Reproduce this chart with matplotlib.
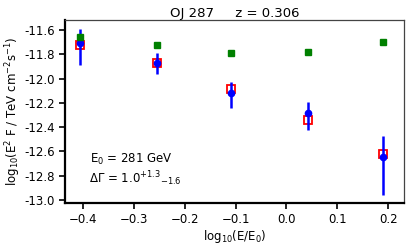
import numpy as np
import matplotlib
matplotlib.use("Agg")
import matplotlib.pyplot as plt
from matplotlib.ticker import FuncFormatter

# data
log_e = [-0.405, -0.255, -0.108, 0.042, 0.189]
flux_obs = [-11.71, -11.87, -12.12, -12.28, -12.65]
err_lo = [0.18, 0.09, 0.12, 0.14, 0.31]
err_hi = [0.12, 0.08, 0.09, 0.09, 0.18]
flux_model = [-11.72, -11.87, -12.09, -12.34, -12.62]
flux_intr = [-11.66, -11.72, -11.79, -11.78, -11.70]

fig = plt.figure(figsize=(4.15, 2.47), dpi=100)
ax = fig.add_axes([65/415, 44/247, 339/415, 183/247])

ax.plot(log_e, flux_model, 's', mfc='none', mec='red', ms=5.5, mew=1.3, zorder=2)
ax.errorbar(log_e, flux_obs, yerr=[err_lo, err_hi], fmt='o', color='blue',
            ms=4.5, elinewidth=1.8, capsize=0, zorder=3)
ax.plot(log_e, flux_intr, 's', color='green', ms=4.5, zorder=4)

ax.set_xlim(-0.435, 0.231)
ax.set_ylim(-13.025, -11.518)
ax.set_xticks([-0.4, -0.3, -0.2, -0.1, 0.0, 0.1, 0.2])
ax.set_yticks([-11.6, -11.8, -12.0, -12.2, -12.4, -12.6, -12.8, -13.0])
ax.yaxis.set_major_formatter(FuncFormatter(lambda v, p: f"{v:.1f}"))
ax.tick_params(labelsize=8.5, length=4, width=1.2, color='black')

for s in ['left', 'bottom']:
    ax.spines[s].set_linewidth(1.6)
    ax.spines[s].set_color('black')
for s in ['top', 'right']:
    ax.spines[s].set_linewidth(0.9)
    ax.spines[s].set_color('#444444')

ax.set_xlabel(r'log$_{10}$(E/E$_0$)', fontsize=8.5, labelpad=1)
ax.set_ylabel(r'log$_{10}$(E$^2$ F / TeV cm$^{-2}$s$^{-1}$)', fontsize=8.5, labelpad=1)
ax.set_title('OJ 287     z = 0.306', fontsize=9.5, pad=2)

ax.text(0.075, 0.22, r'E$_0$ = 281 GeV', transform=ax.transAxes, fontsize=8.5)
ax.text(0.07, 0.11, r'$\Delta\Gamma$ = 1.0$^{+1.3}$$_{-1.6}$', transform=ax.transAxes, fontsize=8.5)

fig.savefig('out.png', dpi=100)
